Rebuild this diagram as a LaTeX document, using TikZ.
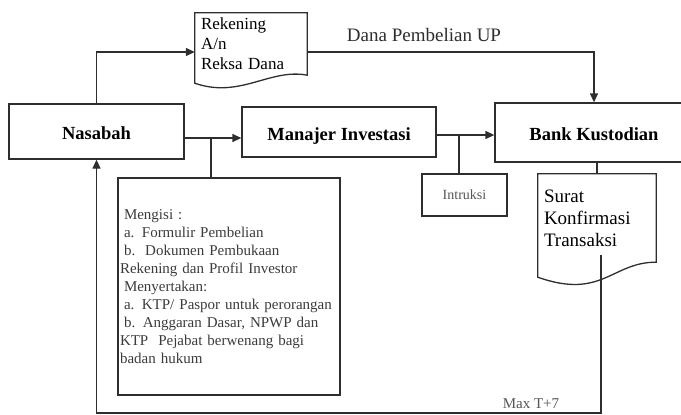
\documentclass[tikz,border=0pt]{standalone}
\usepackage{fontspec}
\setmainfont{Liberation Serif}
\usetikzlibrary{arrows.meta, positioning, calc}
\definecolor{lineink}{HTML}{2E2E2E}
\definecolor{softink}{HTML}{555555}

\begin{document}
\begin{tikzpicture}[
    x=1pt, y=-1pt,
    bigbox/.style={
        draw=lineink, line width=1.3pt, inner sep=0pt,
        text height=16pt, text depth=0pt,
        font=\fontsize{18.5}{21}\selectfont\bfseries, align=center
    },
    docshape/.style={
        inner xsep=6pt, inner ysep=0pt, align=left,
        font=\fontsize{17}{20}\selectfont
    },
    notebox/.style={
        draw=lineink, line width=1.3pt, inner xsep=2pt, inner ysep=0pt,
        align=left, text=softink!70!black
    },
    outline/.style={draw=lineink, line width=1.3pt},
    arrow/.style={-{Triangle[length=9pt, width=8pt]}, draw=lineink, line width=1.3pt},
    plain/.style={draw=lineink, line width=1.3pt}
]
\clip (0,0) rectangle (681,415);

% Main parties
\node[bigbox, minimum width=175pt, minimum height=55pt] (nas) at (96.5,131.5) {Nasabah};
\node[bigbox, minimum width=194pt, minimum height=50pt] (man) at (339,132) {Manajer Investasi};
\node[bigbox, minimum width=198pt, minimum height=59pt] (bank) at (594,132.5) {Bank Kustodian};

% Documents
\node[docshape, minimum width=112pt, minimum height=62pt, text width=100pt] (rek) at (251,44)
    {Rekening\\A/n\\Reksa Dana};
\draw[outline] (rek.north west) -- (rek.north east) -- (rek.south east)
    .. controls (270,68) and (240,99) .. ($(rek.south west)+(0,8)$) -- cycle;

\node[docshape, minimum width=118pt, minimum height=88pt, text width=106pt,
      font=\fontsize{19}{22}\selectfont] (surat) at (597,218)
    {Surat\\Konfirmasi\\Transaksi};
\draw[outline] (surat.north west) -- (surat.north east) -- (surat.south east)
    .. controls (612,262) and (602,300) .. ($(surat.south west)+(0,15)$) -- cycle;

% Notes
\node[notebox, minimum width=222pt, minimum height=217pt, text width=218pt,
      font=\fontsize{15}{18}\selectfont] (isi) at (229,286.5)
    {\hspace{4pt}Mengisi :\\
     \hspace{4pt}a. Formulir Pembelian\\
     \hspace{4pt}b.\ \ Dokumen Pembukaan\\
     Rekening dan Profil Investor\\
     \hspace{4pt}Menyertakan:\\
     \hspace{4pt}a. KTP/ Paspor untuk perorangan\\
     \hspace{4pt}b. Anggaran Dasar, NPWP dan\\
     KTP\ \ Pejabat berwenang bagi\\
     badan hukum};
\node[notebox, align=center, minimum width=85pt, minimum height=42pt, text=softink,
      font=\fontsize{14}{16}\selectfont] (ins) at (464.5,195) {Intruksi};

% Labels
\node[font=\fontsize{19}{21}\selectfont, text=lineink] (dana) at (424,35) {Dana Pembelian UP};
\node[font=\fontsize{15}{17}\selectfont, text=softink] (maxt) at (531,404) {Max T+7};

% Flows
\draw[arrow] (nas.north) |- ([yshift=-8pt]rek.west);
\draw[arrow] ([yshift=-8pt]rek.east) -| (bank.north);
\draw[arrow] ([yshift=-6.5pt]nas.east) -- ([yshift=-6.5pt]nas.east -| man.west);
\draw[arrow] ([yshift=-3pt]man.east) -- ([yshift=-3pt]man.east -| bank.west);

% Branches
\coordinate (j1) at (211,138);
\coordinate (j2) at (459,135);
\draw[plain] (j1) -- (j1 |- isi.north);
\draw[plain] (j2) -- (j2 |- ins.north);
\draw[plain] (bank.south -| surat.north) -- (surat.north);

% Return to Nasabah
\coordinate (sr) at (601,255);
\coordinate (rt) at (601,413);
\draw[arrow] (sr) -- (rt) -| (nas.south);

\end{tikzpicture}
\end{document}
